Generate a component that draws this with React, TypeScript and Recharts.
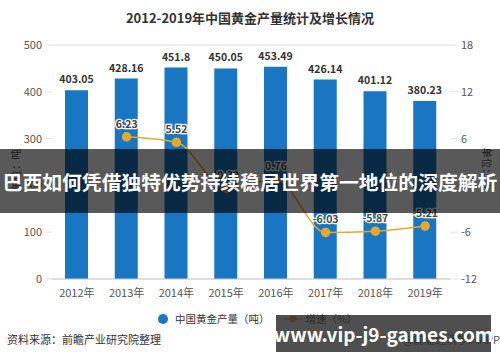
import React from "react";
import {
  ComposedChart, Bar, Line, XAxis, YAxis, CartesianGrid, LabelList,
} from "recharts";

const YEARS = ["2012年", "2013年", "2014年", "2015年", "2016年", "2017年", "2018年", "2019年"];
const OUTPUT = [403.05, 428.16, 451.8, 450.05, 453.49, 426.14, 401.12, 380.23];
const GROWTH: (number | null)[] = [null, 6.23, 5.52, -0.39, 0.76, -6.03, -5.87, -5.21];
const LEFT_TICKS = [0, 100, 200, 300, 400, 500];
const RIGHT_TICKS = [-12, -6, 0, 6, 12, 18];

const DATA = YEARS.map((y, i) => ({ year: y, output: OUTPUT[i], growth: GROWTH[i] }));

const FONT = '"Noto Sans CJK SC", "Noto Sans", sans-serif';
const BLUE = "#1976C2";
const GOLD = "#E8A72A";

function BarLabel(props: any) {
  const { x, y, width, value } = props;
  return (
    <text x={x + width / 2} y={y - 7} textAnchor="middle" fontSize={10.5}
      fontWeight="bold" fill="#333" fontFamily={FONT}>{value}</text>
  );
}

function LineLabel(props: any) {
  const { x, y, value } = props;
  if (value == null) return null;
  return (
    <text x={x} y={y - 9} textAnchor="middle" fontSize={10.5} fontWeight="bold"
      fill="#444" stroke="#fff" strokeWidth={2.5} paintOrder="stroke"
      fontFamily={FONT}>{value}</text>
  );
}

export default function App() {
  return (
    <div style={{ position: "fixed", left: 0, top: 0, width: 500, height: 362,
      background: "#fff", fontFamily: FONT, overflow: "hidden" }}>
      <div style={{ position: "absolute", top: 8, width: 500, textAlign: "center",
        fontSize: 13, fontWeight: "bold", color: "#333" }}>
        2012-2019年中国黄金产量统计及增长情况
      </div>
      <ComposedChart width={500} height={362} data={DATA}
        margin={{ top: 45, right: 5, left: 7, bottom: 53 }}>
        <CartesianGrid vertical={false} stroke="#e2e2e2" />
        <XAxis dataKey="year" height={30} tick={{ fontSize: 11, fill: "#555", fontFamily: FONT }}
          axisLine={{ stroke: "#ccc" }} tickLine={false} tickMargin={4} />
        <YAxis yAxisId="l" domain={[0, 500]} ticks={LEFT_TICKS} width={45}
          tick={{ fontSize: 11, fill: "#555", fontFamily: FONT }} axisLine={false}
          tickLine={{ stroke: "#e2e2e2" }} tickSize={7} tickMargin={3} />
        <YAxis yAxisId="r" orientation="right" domain={[-12, 18]} ticks={RIGHT_TICKS} width={45}
          tick={{ fontSize: 11, fill: "#555", fontFamily: FONT }} axisLine={false}
          tickLine={{ stroke: "#e2e2e2" }} tickSize={8} tickMargin={3} />
        <Bar yAxisId="l" dataKey="output" fill={BLUE} barSize={23} isAnimationActive={false}>
          <LabelList dataKey="output" content={BarLabel} />
        </Bar>
        <Line yAxisId="r" dataKey="growth" type="monotone" stroke={GOLD} strokeWidth={1.5}
          dot={{ r: 4, fill: GOLD, stroke: GOLD }} connectNulls isAnimationActive={false}>
          <LabelList dataKey="growth" content={LineLabel} />
        </Line>
      </ComposedChart>

      <div style={{ position: "absolute", left: 8, top: 170, transform: "translate(-50%, -50%) rotate(-90deg)",
        marginLeft: 7, fontSize: 10.5, color: "#555", whiteSpace: "nowrap" }}>单位：吨</div>
      <div style={{ position: "absolute", left: 487, top: 168, transform: "translate(-50%, -50%) rotate(90deg)",
        fontSize: 10.5, color: "#555", whiteSpace: "nowrap" }}>单位：%</div>

      <div style={{ position: "absolute", top: 311, left: 158, display: "flex", alignItems: "center",
        fontSize: 10.5, color: "#333", whiteSpace: "nowrap" }}>
        <span style={{ width: 10, height: 10, borderRadius: 5, background: BLUE, marginRight: 7 }} />
        <span>中国黄金产量（吨）</span>
        <svg width={18} height={10} style={{ marginLeft: 14, marginRight: 4 }}>
          <line x1={0} y1={5} x2={18} y2={5} stroke={GOLD} strokeWidth={1.5} />
          <circle cx={9} cy={5} r={3.5} fill={GOLD} />
        </svg>
        <span>增速（%）</span>
      </div>

      <div style={{ position: "absolute", top: 331, left: 7, fontSize: 11, color: "#333" }}>
        资料来源：前瞻产业研究院整理
      </div>
      <div style={{ position: "absolute", top: 331, right: 0, fontSize: 11, color: "#555" }}>
        @前瞻经济学人APP
      </div>

      <div style={{ position: "absolute", left: 0, top: 149, width: 500, height: 64,
        background: "rgba(0,0,0,0.65)", display: "flex", alignItems: "center", justifyContent: "center",
        color: "#fff", fontWeight: "bold", fontSize: 19.8, whiteSpace: "nowrap" }}>
        巴西如何凭借独特优势持续稳居世界第一地位的深度解析
      </div>
      <div style={{ position: "absolute", left: 276, top: 315, width: 215, height: 37,
        background: "rgba(40,40,40,0.82)", display: "flex", alignItems: "center", justifyContent: "center",
        color: "#fff", fontWeight: "bold", fontSize: 19, whiteSpace: "nowrap" }}>
        www.vip-j9-games.com
      </div>
    </div>
  );
}
